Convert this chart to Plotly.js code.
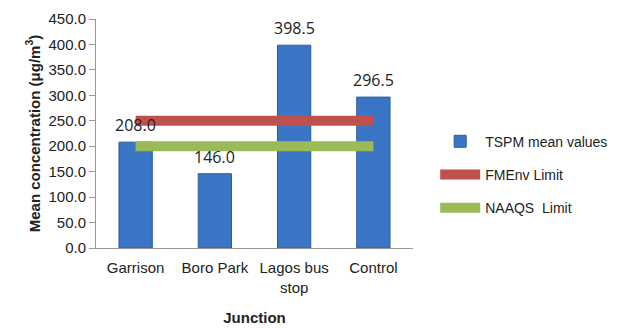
<!DOCTYPE html>
<html>
<head>
<meta charset="utf-8">
<script src="https://cdn.plot.ly/plotly-3.0.1.min.js"></script>
<style>html,body{margin:0;padding:0;background:#fff;}#chart{width:629px;height:328px;}</style>
</head>
<body>
<div id="chart"></div>
<script>
const categories = ["Garrison", "Boro Park", "Lagos bus<br>stop", "Control"];
const tspmValues = [208.0, 146.0, 398.5, 296.5];
const fmenvLimit = [250, 250, 250, 250];
const naaqsLimit = [200, 200, 200, 200];
const yTickVals = [0, 50, 100, 150, 200, 250, 300, 350, 400, 450];
const yTickText = yTickVals.map(v => v.toFixed(1));

const traces = [
  {
    type: 'bar', name: 'TSPM mean values', x: categories, y: tspmValues,
    marker: {color: '#3b76c6', line: {color: '#2b5c9e', width: 1}},
    width: 0.42, legendgroup: 'a'
  },
  {
    type: 'scatter', mode: 'lines', name: 'FMEnv Limit', x: categories, y: fmenvLimit,
    line: {color: '#c0504d', width: 10}, legendgroup: 'b'
  },
  {
    type: 'scatter', mode: 'lines', name: 'NAAQS  Limit', x: categories, y: naaqsLimit,
    line: {color: '#9bbb59', width: 10}, legendgroup: 'c'
  }
];

const annotations = categories.map((c, i) => ({
  x: c, y: tspmValues[i], xref: 'x', yref: 'y', text: tspmValues[i].toFixed(1),
  showarrow: false, yshift: 17,
  font: {family: 'Open Sans, sans-serif', size: 16, color: '#222'}
}));

const layout = {
  width: 629, height: 328,
  margin: {l: 96, r: 216, t: 19, b: 80, autoexpand: false},
  paper_bgcolor: '#fff', plot_bgcolor: '#fff',
  font: {family: 'Liberation Sans, Arial, sans-serif', size: 14, color: '#222'},
  showlegend: true,
  legend: {x: 1.07, y: 0.32, yanchor: 'middle', xanchor: 'left',
           font: {family: 'Liberation Sans, Arial, sans-serif', size: 14, color: '#222'},
           traceorder: 'grouped', tracegroupgap: 12, itemwidth: 40},
  annotations: annotations,
  xaxis: {
    type: 'category', showline: true, linecolor: '#999', linewidth: 1,
    ticks: '', showgrid: false, tickfont: {size: 15}, ticklabelstandoff: 6,
    title: {text: '<b>Junction</b>', font: {size: 15}, standoff: 17}
  },
  yaxis: {
    range: [0, 450], tickvals: yTickVals, ticktext: yTickText,
    showline: true, linecolor: '#999', linewidth: 1,
    ticks: 'outside', ticklen: 6, tickcolor: '#999', showgrid: false, zeroline: false,
    tickfont: {size: 15},
    title: {text: '<b>Mean concentration (μg/m<sup>3</sup>)</b>', font: {size: 15}, standoff: 4}
  }
};

Plotly.newPlot('chart', traces, layout, {displayModeBar: false, staticPlot: true});
</script>
</body>
</html>
